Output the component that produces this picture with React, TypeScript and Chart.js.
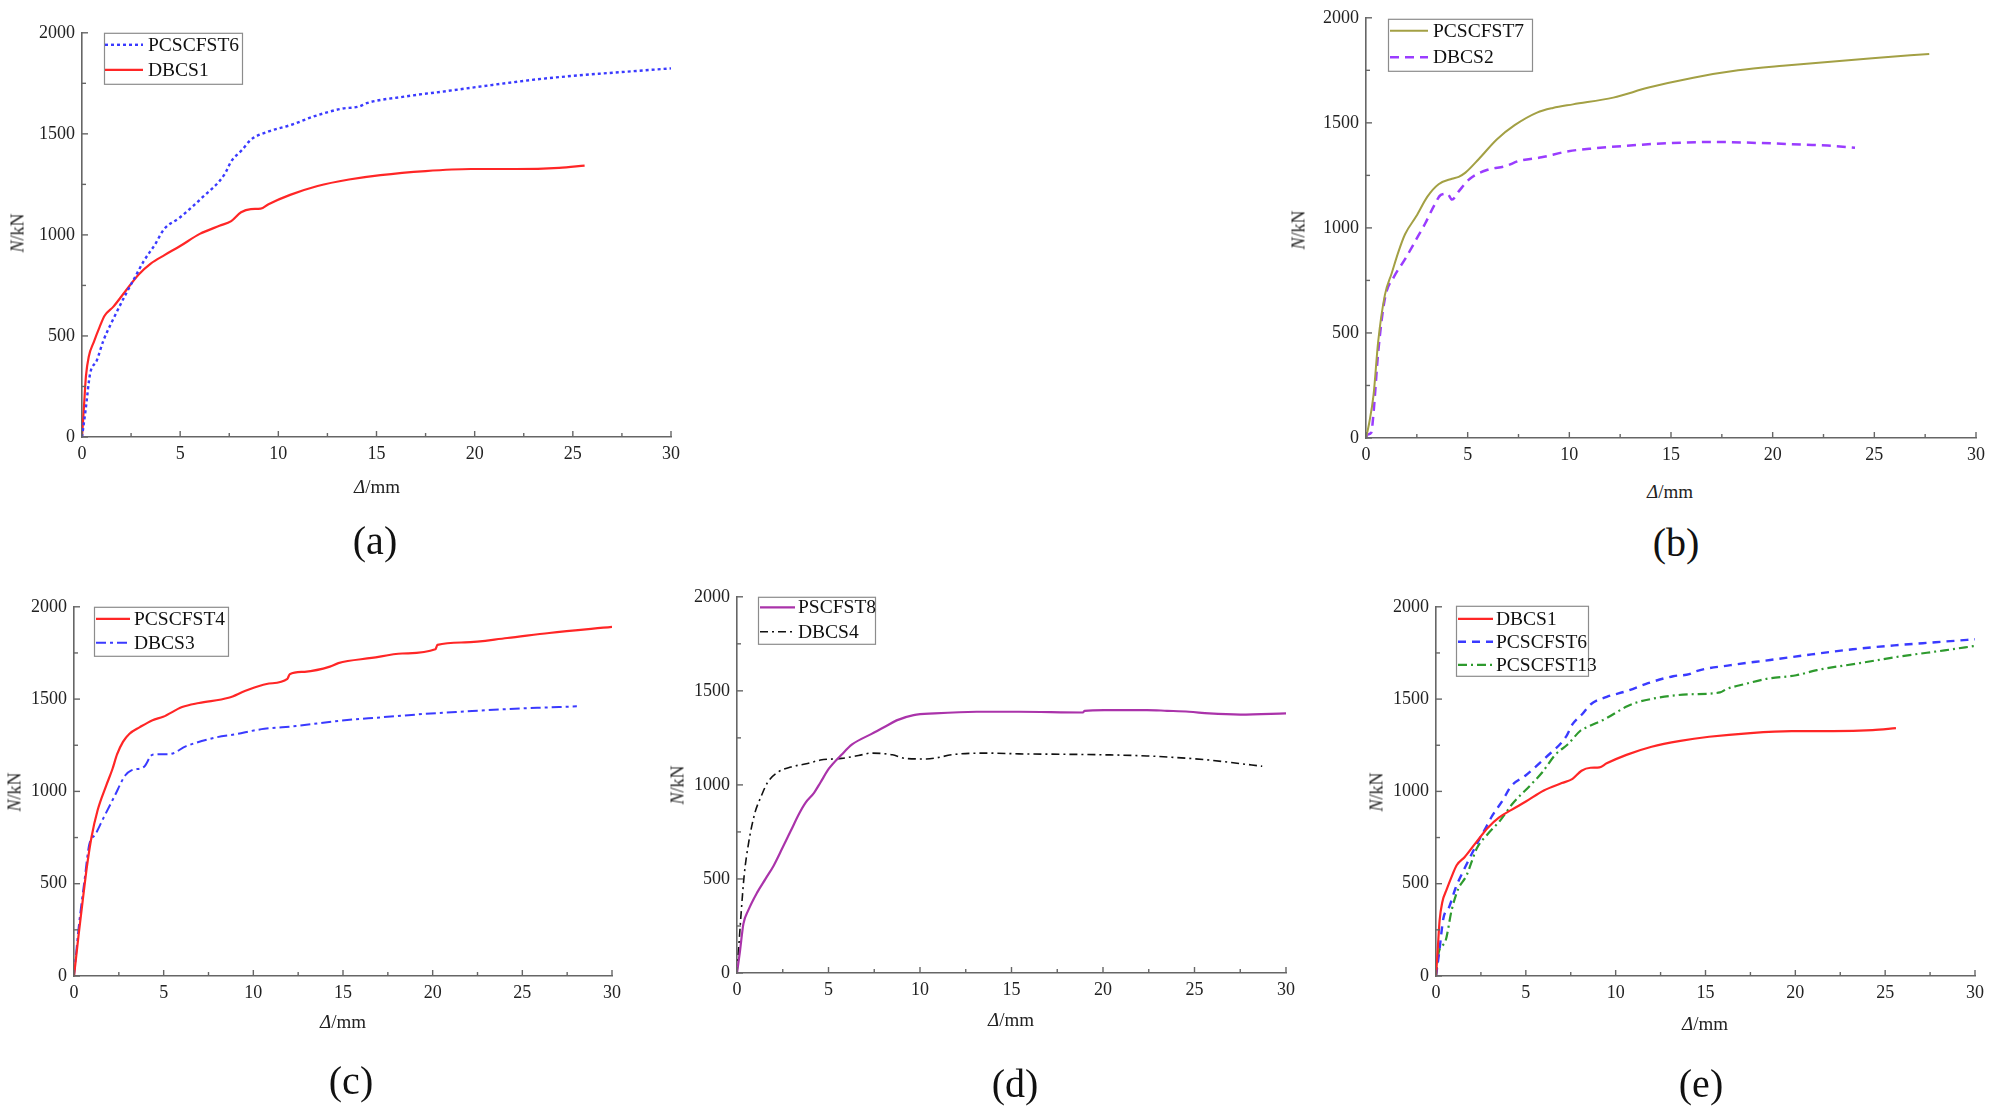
import { useEffect, useRef } from "react";
import Chart from "chart.js/auto";

type Pt = [number, number];

// N (kN) against Δ (mm)
const dbcs1: Pt[] = [
  [0, 0], [0.1, 150], [0.2, 300], [0.35, 400], [0.6, 470], [0.9, 545], [1.15, 600],
  [1.6, 645], [2.2, 720], [2.9, 805], [3.5, 858], [4.2, 900], [5, 945], [6, 1005],
  [7, 1045], [7.6, 1068], [8.1, 1112], [8.6, 1128], [9.1, 1130], [9.5, 1152],
  [10.6, 1198], [12, 1242], [13.6, 1274], [15.2, 1296], [17.5, 1316], [19.8, 1326],
  [22.1, 1326], [24.3, 1332], [25.6, 1343],
];

const pcscfst6: Pt[] = [
  [0, 0], [0.18, 131], [0.41, 312], [0.75, 378], [1.09, 477], [1.55, 575], [2.23, 707],
  [2.69, 789], [3.15, 871], [3.72, 953], [4.17, 1027], [4.97, 1085], [6.1, 1183],
  [7.25, 1298], [7.6, 1364], [8.16, 1421], [8.6, 1471], [9.5, 1512], [10.67, 1545],
  [11.8, 1586], [13.2, 1624], [14.1, 1635], [14.5, 1652], [16.4, 1684], [18.6, 1712],
  [20.9, 1742], [23.2, 1770], [25.5, 1791], [27.8, 1808], [30, 1824],
];

const pcscfst7: Pt[] = [
  [0, 0], [0.15, 68], [0.37, 204], [0.6, 460], [0.93, 681], [1.26, 783], [1.59, 885],
  [1.92, 970], [2.47, 1055], [3.02, 1149], [3.57, 1208], [4.23, 1234], [4.56, 1243],
  [4.89, 1263], [5.55, 1328], [6.43, 1421], [7.31, 1489], [8.41, 1549], [9.19, 1571],
  [10.18, 1588], [12.16, 1620], [13.9, 1668], [16.1, 1715], [18.3, 1750], [20.5, 1772],
  [22.7, 1790], [24.9, 1808], [27.7, 1828],
];

const dbcs2: Pt[] = [
  [0, 0], [0.09, 17], [0.26, 26], [0.37, 119], [0.6, 408], [0.93, 664], [1.37, 766],
  [1.92, 851], [2.47, 945], [2.91, 1021], [3.35, 1106], [3.68, 1157], [4.0, 1163],
  [4.23, 1135], [4.56, 1174], [5.11, 1234], [5.99, 1277], [6.87, 1294], [7.53, 1319],
  [8.63, 1336], [9.96, 1365], [11.28, 1379], [12.8, 1391], [15, 1404], [17.2, 1409],
  [19.4, 1404], [21.6, 1396], [22.7, 1392], [24.05, 1382],
];

const pcscfst4: Pt[] = [
  [0, 0], [0.26, 225], [0.49, 412], [0.73, 599], [0.97, 749], [1.32, 899], [1.79, 1030],
  [2.14, 1120], [2.4, 1200], [2.73, 1268], [3.08, 1311], [3.67, 1348], [4.38, 1386],
  [4.97, 1404], [6.03, 1457], [6.97, 1479], [8.62, 1507], [9.56, 1545], [10.74, 1582],
  [11.9, 1610], [12.03, 1635], [12.86, 1648], [14.27, 1676], [14.74, 1695], [16.6, 1723],
  [18.3, 1747], [20.15, 1770], [20.27, 1794], [21.8, 1807], [24.16, 1831], [26.5, 1858],
  [30, 1891],
];

const dbcs3: Pt[] = [
  [0, 0], [0.26, 262], [0.57, 506], [0.85, 712], [1.2, 768], [1.67, 861], [2.26, 974],
  [2.85, 1086], [3.2, 1114], [3.9, 1133], [4.38, 1199], [5.32, 1202], [6.26, 1245],
  [7.9, 1292], [9.09, 1311], [10.03, 1330], [10.62, 1339], [12.39, 1354], [14.74, 1382],
  [17.1, 1401], [19.45, 1419], [21.8, 1433], [24.16, 1446], [26.5, 1455], [28.04, 1461],
];

const pscfst8: Pt[] = [
  [0, 0], [0.16, 114], [0.35, 261], [0.62, 334], [1.09, 426], [1.55, 499], [2.01, 572],
  [2.48, 664], [2.94, 756], [3.4, 848], [3.75, 906], [4.21, 958], [4.56, 1013],
  [5.02, 1086], [5.71, 1160], [6.29, 1215], [7.33, 1270], [8.03, 1306], [8.72, 1343],
  [9.65, 1371], [10.8, 1380], [13.1, 1389], [15.4, 1389], [18.9, 1385], [19.0, 1394],
  [20.06, 1398], [22.4, 1398], [23.5, 1394], [24.7, 1389], [25.8, 1380], [27.5, 1374],
  [30, 1380],
];

const dbcs4: Pt[] = [
  [0, 0], [0.21, 297], [0.39, 517], [0.62, 683], [0.97, 848], [1.32, 939], [1.67, 1013],
  [2.24, 1068], [2.94, 1095], [3.86, 1114], [4.56, 1132], [5.71, 1141], [6.64, 1156],
  [7.33, 1169], [8.49, 1160], [9.18, 1141], [10.34, 1138], [11.96, 1163], [13.8, 1169],
  [15.4, 1165], [17.7, 1163], [20.06, 1160], [22.4, 1154], [24.7, 1141], [25.8, 1132],
  [27, 1119], [28.7, 1099],
];

const pcscfst13: Pt[] = [
  [0, 0], [0.16, 131], [0.52, 187], [0.87, 356], [1.22, 468], [1.69, 543], [2.28, 693],
  [2.87, 768], [3.58, 843], [4.28, 936], [5.22, 1030], [5.93, 1105], [6.64, 1199],
  [7.34, 1255], [8.05, 1330], [8.4, 1348], [9.46, 1395], [10.64, 1461], [11.22, 1483],
  [12.05, 1502], [12.99, 1517], [14.16, 1526], [15.81, 1536], [16.16, 1554], [17.22, 1582],
  [18.4, 1610], [20.05, 1629], [21.2, 1657], [23.6, 1695], [25.9, 1732], [28.3, 1764],
  [30, 1788],
];

const xTicks = [0, 5, 10, 15, 20, 25, 30];
const yTicks = [0, 500, 1000, 1500, 2000];

const SERIF = '"Liberation Serif", "Times New Roman", serif';
const AXIS = "#666";
const RED = "#ff2626";
const BLUE = "#3a3aff";

// space around the plot area inside each canvas
const YW = 70;
const XH = 40;
const PT = 16;
const PR = 16;

interface Line {
  label: string;
  data: Pt[];
  color: string;
  width: number;
  dash: number[];
}

interface PanelDef {
  key: string;
  area: { l: number; t: number; r: number; b: number };
  lines: Line[];
  legend: { x: number; y: number; w: number; h: number; rows: number[]; line: [number, number]; text: number };
  yTitle: [number, number];
  xTitle: [number, number];
  caption: [number, number];
}

const panels: PanelDef[] = [
  {
    key: "a",
    area: { l: 82, t: 31, r: 671, b: 437 },
    lines: [
      { label: "PCSCFST6", data: pcscfst6, color: BLUE, width: 2.4, dash: [3, 3] },
      { label: "DBCS1", data: dbcs1, color: RED, width: 2.2, dash: [] },
    ],
    legend: { x: 104, y: 31, w: 138, h: 51, rows: [43, 68], line: [105, 143], text: 148 },
    yTitle: [18, 233],
    xTitle: [377, 487],
    caption: [375, 540],
  },
  {
    key: "b",
    area: { l: 1366, t: 16, r: 1976, b: 438 },
    lines: [
      { label: "PCSCFST7", data: pcscfst7, color: "#a3a044", width: 2, dash: [] },
      { label: "DBCS2", data: dbcs2, color: "#9a3cff", width: 2.5, dash: [9, 6] },
    ],
    legend: { x: 1388, y: 17, w: 144, h: 52, rows: [29, 55.5], line: [1390, 1428], text: 1433 },
    yTitle: [1299, 230],
    xTitle: [1670, 492],
    caption: [1676, 542],
  },
  {
    key: "c",
    area: { l: 74, t: 605, r: 612, b: 976 },
    lines: [
      { label: "PCSCFST4", data: pcscfst4, color: RED, width: 2.2, dash: [] },
      { label: "DBCS3", data: dbcs3, color: BLUE, width: 2, dash: [10, 4, 3, 4] },
    ],
    legend: { x: 94, y: 605, w: 134, h: 49, rows: [617, 641], line: [96, 130], text: 134 },
    yTitle: [15, 792],
    xTitle: [343, 1022],
    caption: [351, 1080],
  },
  {
    key: "d",
    area: { l: 737, t: 595, r: 1286, b: 973 },
    lines: [
      { label: "PSCFST8", data: pscfst8, color: "#aa33aa", width: 2.2, dash: [] },
      { label: "DBCS4", data: dbcs4, color: "#111", width: 1.6, dash: [8, 4, 2, 4] },
    ],
    legend: { x: 758, y: 595, w: 117, h: 47, rows: [605.5, 630], line: [760, 795], text: 798 },
    yTitle: [678, 785],
    xTitle: [1011, 1020],
    caption: [1015, 1083],
  },
  {
    key: "e",
    area: { l: 1436, t: 605, r: 1975, b: 976 },
    lines: [
      { label: "DBCS1", data: dbcs1, color: RED, width: 2.2, dash: [] },
      { label: "PCSCFST6", data: pcscfst6, color: BLUE, width: 2.4, dash: [8, 6] },
      { label: "PCSCFST13", data: pcscfst13, color: "#2e9a2e", width: 2.2, dash: [9, 4, 2, 4] },
    ],
    legend: { x: 1456, y: 604, w: 132, h: 70, rows: [617, 640, 663], line: [1458, 1493], text: 1496 },
    yTitle: [1377, 792],
    xTitle: [1705, 1024],
    caption: [1701, 1083],
  },
];

// midpoints between major ticks, for the small minor marks
const minors = (t: number[]) => t.slice(1).map((v, i) => (v + t[i]) / 2);

function Panel({ p }: { p: PanelDef }) {
  const canvasRef = useRef<HTMLCanvasElement>(null);

  useEffect(() => {
    const canvas = canvasRef.current;
    if (!canvas) return;
    const { area, legend } = p;
    let chart: Chart | null = null;
    let dead = false;

    // Origin-style tick marks pointing into the plot
    const inTicks = {
      id: "inTicks",
      afterDraw(c: Chart) {
        const { ctx, chartArea: a } = c;
        const x = c.scales.x;
        const y = c.scales.y;
        ctx.save();
        ctx.strokeStyle = AXIS;
        ctx.lineWidth = 1.4;
        const mark = (x0: number, y0: number, x1: number, y1: number) => {
          ctx.beginPath();
          ctx.moveTo(x0, y0);
          ctx.lineTo(x1, y1);
          ctx.stroke();
        };
        xTicks.forEach((v) => mark(x.getPixelForValue(v), a.bottom, x.getPixelForValue(v), a.bottom - 6));
        minors(xTicks).forEach((v) => mark(x.getPixelForValue(v), a.bottom, x.getPixelForValue(v), a.bottom - 4));
        yTicks.forEach((v) => mark(a.left, y.getPixelForValue(v), a.left + 6, y.getPixelForValue(v)));
        minors(yTicks).forEach((v) => mark(a.left, y.getPixelForValue(v), a.left + 4, y.getPixelForValue(v)));
        ctx.restore();
      },
    };

    // boxed legend in the top-left corner of the plot
    const boxLegend = {
      id: "boxLegend",
      afterDraw(c: Chart) {
        const { ctx, chartArea: a } = c;
        const cx = (px: number) => a.left + (px - area.l);
        const cy = (py: number) => a.top + (py - area.t);
        ctx.save();
        ctx.fillStyle = "#fff";
        ctx.fillRect(cx(legend.x), cy(legend.y), legend.w, legend.h);
        ctx.strokeStyle = "#8c8c8c";
        ctx.lineWidth = 1.2;
        ctx.strokeRect(cx(legend.x) + 0.5, cy(legend.y) + 0.5, legend.w, legend.h);
        p.lines.forEach((l, i) => {
          const ry = cy(legend.rows[i]);
          ctx.beginPath();
          ctx.setLineDash(l.dash);
          ctx.strokeStyle = l.color;
          ctx.lineWidth = l.width;
          ctx.moveTo(cx(legend.line[0]), ry);
          ctx.lineTo(cx(legend.line[1]), ry);
          ctx.stroke();
          ctx.setLineDash([]);
          ctx.fillStyle = "#111";
          ctx.font = `19.5px ${SERIF}`;
          ctx.textBaseline = "middle";
          ctx.fillText(l.label, cx(legend.text), ry + 1);
        });
        ctx.restore();
      },
    };

    const tickFont = { family: SERIF, size: 18 };

    const build = () => {
      if (dead) return;
      chart = new Chart(canvas, {
        type: "line",
        data: {
          datasets: p.lines.map((l) => ({
            label: l.label,
            data: l.data.map(([x, y]) => ({ x, y })),
            borderColor: l.color,
            backgroundColor: l.color,
            borderWidth: l.width,
            borderDash: l.dash,
            pointRadius: 0,
            cubicInterpolationMode: "monotone" as const,
            fill: false,
          })),
        },
        options: {
          animation: false,
          responsive: true,
          maintainAspectRatio: false,
          layout: { padding: { left: 0, top: PT, right: PR, bottom: 0 } },
          scales: {
            x: {
              type: "linear",
              min: 0,
              max: 30,
              afterBuildTicks: (s: any) => {
                s.ticks = xTicks.map((value) => ({ value }));
              },
              afterFit: (s: any) => {
                s.height = XH;
              },
              grid: { display: false, drawTicks: false },
              border: { display: true, color: AXIS, width: 1.6 },
              ticks: {
                font: tickFont,
                color: "#222",
                padding: 6,
                maxRotation: 0,
                autoSkip: false,
                callback: (v: any) => String(v),
              },
            },
            y: {
              type: "linear",
              min: 0,
              max: 2000,
              afterBuildTicks: (s: any) => {
                s.ticks = yTicks.map((value) => ({ value }));
              },
              afterFit: (s: any) => {
                s.width = YW;
              },
              grid: { display: false, drawTicks: false },
              border: { display: true, color: AXIS, width: 1.6 },
              ticks: {
                font: tickFont,
                color: "#222",
                padding: 7,
                autoSkip: false,
                callback: (v: any) => String(v),
              },
            },
          },
          plugins: {
            legend: { display: false },
            tooltip: { enabled: false },
          },
        },
        plugins: [inTicks, boxLegend],
      });
    };

    // make sure the serif face is ready before the canvas draws text
    Promise.all([
      document.fonts.load(`18px ${SERIF}`),
      document.fonts.load(`19.5px ${SERIF}`),
    ])
      .catch(() => undefined)
      .then(build);

    return () => {
      dead = true;
      if (chart) chart.destroy();
    };
  }, [p]);

  const { area } = p;
  const text = {
    position: "absolute" as const,
    whiteSpace: "nowrap" as const,
    color: "#222",
  };

  return (
    <>
      <div
        style={{
          position: "absolute",
          left: area.l - YW,
          top: area.t - PT,
          width: area.r - area.l + YW + PR,
          height: area.b - area.t + PT + XH,
        }}
      >
        <canvas ref={canvasRef} />
      </div>
      <div
        style={{
          ...text,
          left: p.yTitle[0],
          top: p.yTitle[1],
          fontSize: 18,
          transform: "translate(-50%, -50%) rotate(-90deg)",
        }}
      >
        <i>N</i>/kN
      </div>
      <div
        style={{
          ...text,
          left: p.xTitle[0],
          top: p.xTitle[1],
          fontSize: 19,
          transform: "translate(-50%, -50%)",
        }}
      >
        <i>Δ</i>/mm
      </div>
      <div
        style={{
          ...text,
          left: p.caption[0],
          top: p.caption[1],
          fontSize: 40,
          color: "#111",
          transform: "translate(-50%, -50%)",
        }}
      >
        ({p.key})
      </div>
    </>
  );
}

export default function App() {
  return (
    <div
      style={{
        position: "absolute",
        left: 0,
        top: 0,
        width: 1991,
        height: 1111,
        overflow: "hidden",
        background: "#fff",
        fontFamily: SERIF,
      }}
    >
      {panels.map((p) => (
        <Panel key={p.key} p={p} />
      ))}
    </div>
  );
}
